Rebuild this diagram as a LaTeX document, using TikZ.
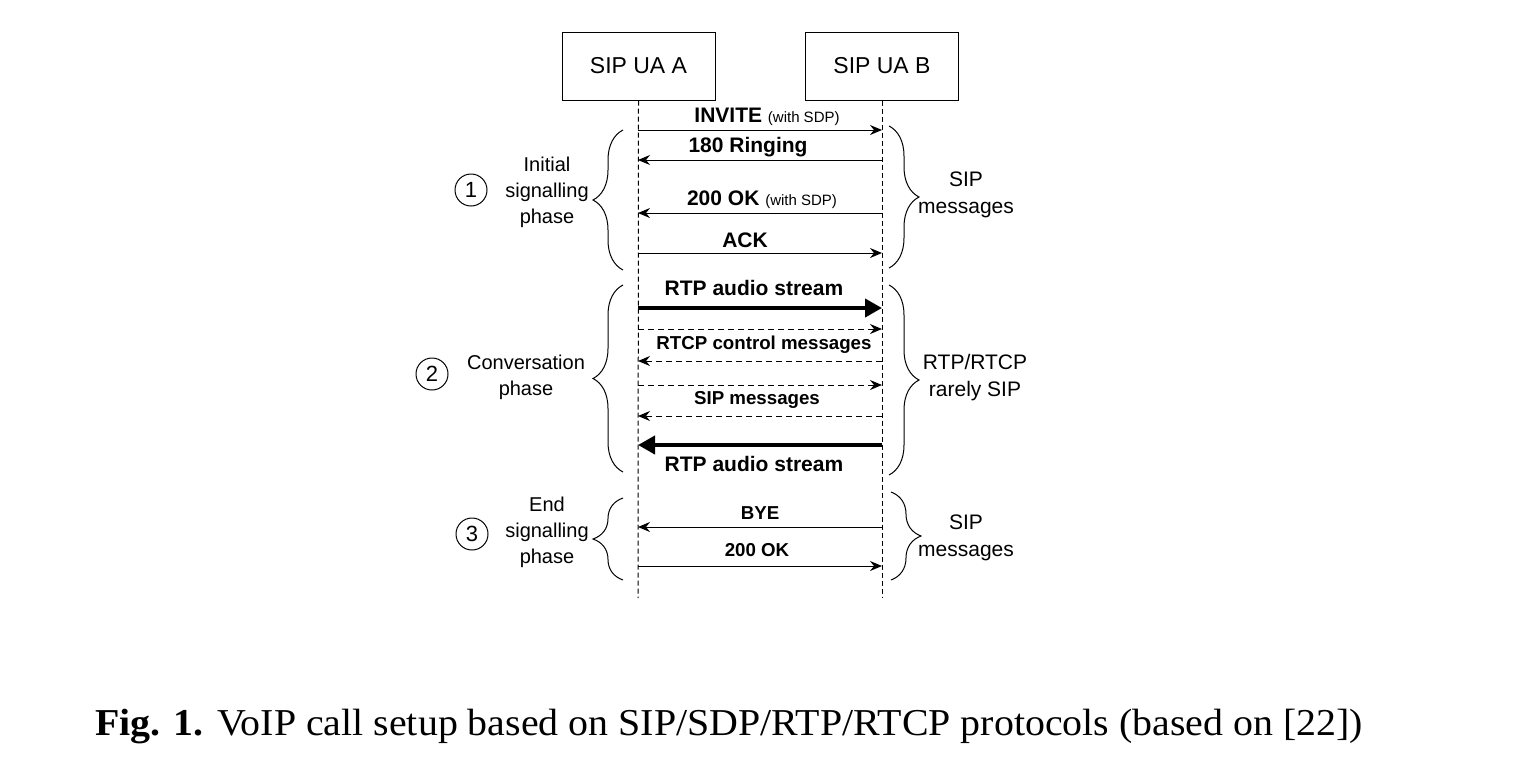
\documentclass[tikz,border=0pt]{standalone}
\usepackage{fontspec}
\setmainfont{Liberation Sans}
\newfontfamily\capfont{Liberation Serif}
\usetikzlibrary{arrows.meta,decorations.pathreplacing}
\begin{document}
\begin{tikzpicture}[x=1pt,y=-1pt,
  box/.style={draw,line width=1pt,minimum width=153pt,minimum height=68pt,inner sep=0pt,font=\fontsize{23}{27}\selectfont},
  life/.style={line width=1pt,dash pattern=on 5pt off 3pt},
  msg/.style={line width=1pt,-{Stealth[length=12pt,width=10pt,inset=4pt]}},
  dmsg/.style={line width=1pt,dash pattern=on 6pt off 4pt,-{Stealth[length=12pt,width=10pt,inset=4pt]}},
  thick msg/.style={line width=4pt,-{Triangle[length=17pt,width=18pt]}},
  lbl/.style={inner sep=0pt,font=\fontsize{21}{25}\selectfont\bfseries},
  slbl/.style={inner sep=0pt,font=\fontsize{18.7}{22}\selectfont\bfseries},
  side/.style={inner sep=0pt,align=center,font=\fontsize{20}{26}\selectfont},
  rside/.style={inner sep=0pt,align=center,font=\fontsize{21}{27}\selectfont},
  num/.style={draw,circle,line width=1pt,minimum size=32pt,inner sep=0pt,font=\fontsize{22}{25}\selectfont},
  brace/.style={decorate,decoration={brace,amplitude=30pt},line width=1pt}
]
\useasboundingbox (0,0) rectangle (1515,780);
\node[box] (A) at (638.5,66) {SIP UA A};
\node[box] (B) at (882,66) {SIP UA B};
\coordinate (Aend) at (638,598);
\coordinate (Bend) at (882,598);
\draw[life] (A.south) -- (Aend);
\draw[life] (B.south) -- (Bend);
% lifeline points
\foreach \n/\y in {1/130,2/160,3/213,4/253,5/308,6/329,7/361,8/385,9/416,10/445,11/527,12/566}{
  \coordinate (a\n) at (638,\y);
  \coordinate (b\n) at (882,\y);
}
\draw[msg] (a1) -- (b1);
\draw[msg] (b2) -- (a2);
\draw[msg] (b3) -- (a3);
\draw[msg] (a4) -- (b4);
\draw[thick msg] (a5) -- (b5);
\draw[dmsg] (a6) -- (b6);
\draw[dmsg] (b7) -- (a7);
\draw[dmsg] (a8) -- (b8);
\draw[dmsg] (b9) -- (a9);
\draw[thick msg] (b10) -- (a10);
\draw[msg] (b11) -- (a11);
\draw[msg] (a12) -- (b12);
% labels
\node[lbl] (l1) at (767,117) {INVITE {\fontsize{15}{18}\selectfont\mdseries (with SDP)}};
\node[lbl] (l2) at (748,147) {180 Ringing};
\node[lbl] (l3) at (762,200) {200 OK {\fontsize{15}{18}\selectfont\mdseries (with SDP)}};
\node[lbl] (l4) at (745,240) {ACK};
\node[lbl] (l5) at (754,288) {RTP audio stream};
\node[slbl] (l6) at (764,345) {RTCP control messages};
\node[slbl] (l7) at (757,400) {SIP messages};
\node[lbl] (l8) at (754,464) {RTP audio stream};
\node[slbl] (l9) at (760,513) {BYE};
\node[slbl] (l10) at (757,550) {200 OK};
% braces
\coordinate (L1b) at (623,270); \coordinate (L1t) at (623,130);
\coordinate (R1t) at (889,126); \coordinate (R1b) at (889,268);
\coordinate (L2b) at (623,472); \coordinate (L2t) at (623,285);
\coordinate (R2t) at (889,285); \coordinate (R2b) at (889,475);
\coordinate (L3b) at (623,580); \coordinate (L3t) at (623,498);
\coordinate (R3t) at (891,492); \coordinate (R3b) at (891,580);
\draw[brace] (L1b) -- (L1t);
\draw[brace] (R1t) -- (R1b);
\draw[brace] (L2b) -- (L2t);
\draw[brace] (R2t) -- (R2b);
\draw[brace] (L3b) -- (L3t);
\draw[brace] (R3t) -- (R3b);
% side labels
\node[side] (p1) at (547,192) {Initial\\signalling\\phase};
\node[side] (p2) at (526,377) {Conversation\\phase};
\node[side] (p3) at (547,532) {End\\signalling\\phase};
\node[rside] (s1) at (966,195) {SIP\\messages};
\node[rside] (s2) at (975,378) {RTP/RTCP\\rarely SIP};
\node[rside] (s3) at (966,538) {SIP\\messages};
\node[num] (n1) at (471,190) {1};
\node[num] (n2) at (432,374) {2};
\node[num] (n3) at (472,534) {3};
% caption
\node[anchor=base west,inner sep=0pt,font=\capfont\fontsize{38}{44}\selectfont] (cap) at (95,735) {\scalebox{1.05}[1]{\textbf{Fig. 1.} VoIP call setup based on SIP/SDP/RTP/RTCP protocols (based on [22])}};
\end{tikzpicture}
\end{document}
